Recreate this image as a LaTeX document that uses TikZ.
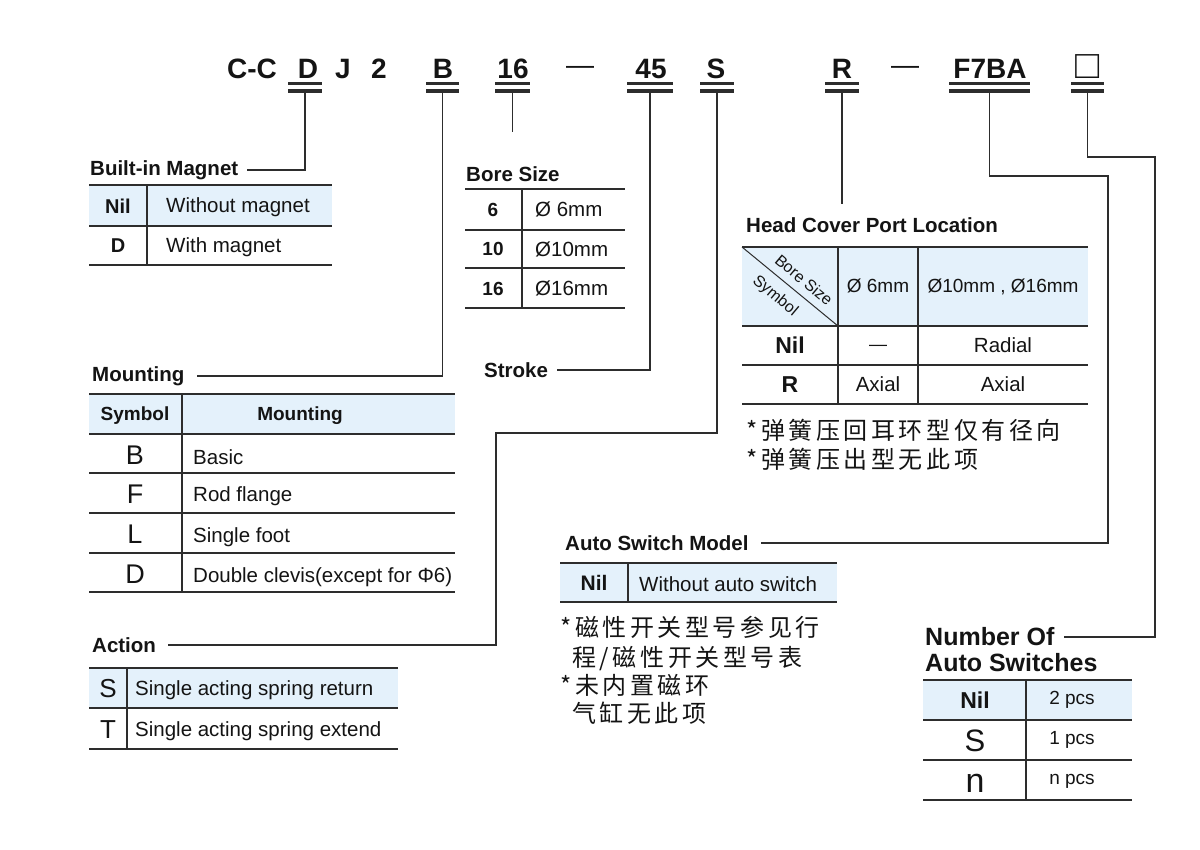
\documentclass[tikz,border=0pt]{standalone}
\usepackage{fontspec}
\setmainfont{Liberation Sans}
\newfontfamily\cjk[LetterSpace=15]{Noto Sans CJK SC}
\definecolor{shadeblue}{RGB}{228,241,251}
\definecolor{ink}{RGB}{45,45,45}
\begin{document}
\begin{tikzpicture}[x=1pt,y=-1pt,
  every node/.style={inner sep=0pt, text=black!92},
  tl1/.style={draw=ink, line width=1.4pt},
  tl2/.style={draw=ink, line width=2.1pt},
  conn/.style={draw=ink, line width=1.4pt},
  ul1/.style={draw=ink, line width=2.4pt},
  ul2/.style={draw=ink, line width=3.2pt},
  cT/.style={font=\fontsize{#1}{#1}\selectfont, anchor=base, yshift={-0.358*#1pt}},
  lT/.style={font=\fontsize{#1}{#1}\selectfont, anchor=base west, yshift={-0.358*#1pt}},
  cB/.style={cT=#1, font=\fontsize{#1}{#1}\selectfont\bfseries},
  lB/.style={lT=#1, font=\fontsize{#1}{#1}\selectfont\bfseries},
  cjkT/.style={font=\cjk\fontsize{24}{24}\selectfont, anchor=base west, yshift=-9pt},
  code/.style={font=\fontsize{28}{28}\selectfont\bfseries, anchor=base},
  codedash/.style={font=\fontsize{28}{28}\selectfont, anchor=base},
  diag/.style={font=\fontsize{16}{16}\selectfont, rotate=-40}
]
\fill[white] (0,0) rectangle (1200,850);
\useasboundingbox (0,0) rectangle (1200,850);

% ---------- model code ----------
\node[code] (cC) at (252,79) {C-C};
\node[code] (cD) at (308,79) {D};
\node[code] (cJ) at (343,79) {J};
\node[code] (c2) at (379,79) {2};
\node[code] (cB) at (443,79) {B};
\node[code] (c16) at (513,79) {16};
\node[codedash] (d1) at (580,75) {—};
\node[code] (c45) at (651,79) {45};
\node[code] (cS) at (716,79) {S};
\node[code] (cR) at (842,79) {R};
\node[codedash] (d2) at (905,75) {—};
\node[code] (cF) at (990,79) {F7BA};
\node[font=\fontsize{40}{40}\selectfont, anchor=base] (cX) at (1088,79) {□};

\foreach \n/\a/\b in {D/288/322, B/426/459, N16/495/530, N45/627/673, S/700/734, R/825/859, F/949/1030, X/1071/1104} {
  \draw[ul1] (\a,83.5) -- (\b,83.5);
  \draw[ul2] (\a,91) -- (\b,91);
  \coordinate (u\n) at ({(\a+\b)/2},92.5);
}

% ---------- Built-in Magnet ----------
\node[lB=20.5] (tMag) at (90,168) {Built-in Magnet};
\fill[shadeblue] (89,185) rectangle (332,226);
\draw[tl2] (89,185) -- (332,185);
\draw[tl2] (89,226) -- (332,226);
\draw[tl1] (89,265) -- (332,265);
\draw[tl1] (147,185) -- (147,265);
\node[cB=20] (mNil) at (118,206) {Nil};
\node[lT=20.5] (mNilT) at (166,205.5) {Without magnet};
\node[cB=20] (mD) at (118,245.5) {D};
\node[lT=20.5] (mDT) at (166,245.5) {With magnet};

% ---------- Bore Size ----------
\node[lB=20.5] (tBore) at (466,174) {Bore Size};
\draw[tl1] (465,189) -- (625,189);
\draw[tl1] (465,230) -- (625,230);
\draw[tl1] (465,268) -- (625,268);
\draw[tl1] (465,308) -- (625,308);
\draw[tl1] (522,189) -- (522,308);
\node[cB=19] (b6) at (493,209.5) {6};
\node[cB=19] (b10) at (493,249) {10};
\node[cB=19] (b16) at (493,288.5) {16};
\node[lT=20.5] (b6T) at (535,209.5) {Ø 6mm};
\node[lT=20.5] (b10T) at (535,249) {Ø10mm};
\node[lT=20.5] (b16T) at (535,288.5) {Ø16mm};

% ---------- Head Cover Port Location ----------
\node[lB=20.5] (tHead) at (746,225) {Head Cover Port Location};
\fill[shadeblue] (742,247) rectangle (1088,326);
\draw[tl2] (742,247) -- (1088,247);
\draw[tl2] (742,326) -- (1088,326);
\draw[tl1] (742,365) -- (1088,365);
\draw[tl1] (742,404) -- (1088,404);
\draw[tl1] (838,247) -- (838,404);
\draw[tl1] (918,247) -- (918,404);
\draw[draw=ink, line width=1pt] (742,247) -- (838,326);
\node[diag] (hBore) at (804,280) {Bore Size};
\node[diag] (hSym) at (775,296) {Symbol};
\node[cT=19] (h6) at (878,286) {Ø 6mm};
\node[cT=19] (h1016) at (1003,286) {Ø10mm , Ø16mm};
\node[cB=23] (hNil) at (790,345.5) {Nil};
\node[font=\fontsize{18}{18}\selectfont, anchor=base] (hDash) at (878,350.5) {—};
\node[cT=20.5] (hRad) at (1003,345.5) {Radial};
\node[cB=23] (hR) at (790,384.5) {R};
\node[cT=20.5] (hAx1) at (878,384.5) {Axial};
\node[cT=20.5] (hAx2) at (1003,384.5) {Axial};
\node[cjkT] (hN1) at (746,430) {*弹簧压回耳环型仅有径向};
\node[cjkT] (hN2) at (746,459) {*弹簧压出型无此项};

% ---------- Mounting ----------
\node[lB=20.5] (tMount) at (92,374) {Mounting};
\fill[shadeblue] (89,394) rectangle (455,434);
\draw[tl2] (89,394) -- (455,394);
\draw[tl2] (89,434) -- (455,434);
\draw[tl1] (89,473) -- (455,473);
\draw[tl1] (89,513) -- (455,513);
\draw[tl1] (89,553) -- (455,553);
\draw[tl1] (89,592) -- (455,592);
\draw[tl1] (182,394) -- (182,592);
\node[cB=19] (mSym) at (135,414) {Symbol};
\node[cB=19] (mMnt) at (300,414) {Mounting};
\node[cT=27] (mB) at (135,455) {B};
\node[cT=27] (mF) at (135,494) {F};
\node[cT=27] (mL) at (135,534) {L};
\node[cT=27] (mDD) at (135,574) {D};
\node[lT=20.5] (mBT) at (193,457) {Basic};
\node[lT=20.5] (mFT) at (193,494.5) {Rod flange};
\node[lT=20.5] (mLT) at (193,535.5) {Single foot};
\node[lT=20.5] (mDDT) at (193,575.5) {Double clevis(except for Φ6)};

% ---------- Stroke ----------
\node[lB=20.5] (tStroke) at (484,370) {Stroke};

% ---------- Auto Switch Model ----------
\node[lB=20.5] (tAuto) at (565,543) {Auto Switch Model};
\fill[shadeblue] (560,563) rectangle (837,602);
\draw[tl2] (560,563) -- (837,563);
\draw[tl2] (560,602) -- (837,602);
\draw[tl1] (628,563) -- (628,602);
\node[cB=21] (aNil) at (594,583) {Nil};
\node[lT=20.5] (aNilT) at (639,584) {Without auto switch};
\node[cjkT] (aN1) at (560,627) {*磁性开关型号参见行};
\node[cjkT] (aN2) at (572,657) {程/磁性开关型号表};
\node[cjkT] (aN3) at (560,685) {*未内置磁环};
\node[cjkT] (aN4) at (572,713) {气缸无此项};

% ---------- Action ----------
\node[lB=20.5] (tAct) at (92,645) {Action};
\fill[shadeblue] (89,668) rectangle (398,708);
\draw[tl2] (89,668) -- (398,668);
\draw[tl2] (89,708) -- (398,708);
\draw[tl1] (89,749) -- (398,749);
\draw[tl1] (127,668) -- (127,749);
\node[cT=26] (acS) at (108,688) {S};
\node[cT=26] (acT) at (108,729) {T};
\node[lT=20.5] (acST) at (135,688) {Single acting spring return};
\node[lT=20.5] (acTT) at (135,729) {Single acting spring extend};

% ---------- Number Of Auto Switches ----------
\node[lB=25] (tNum) at (925,637) {Number Of};
\node[lB=25] (tNum2) at (925,663) {Auto Switches};
\fill[shadeblue] (923,680) rectangle (1132,720);
\draw[tl2] (923,680) -- (1132,680);
\draw[tl2] (923,720) -- (1132,720);
\draw[tl1] (923,760) -- (1132,760);
\draw[tl1] (923,800) -- (1132,800);
\draw[tl1] (1026,680) -- (1026,800);
\node[cB=23] (nNil) at (975,700) {Nil};
\node[cT=31] (nS) at (975,740) {S};
\node[font=\fontsize{34}{34}\selectfont, anchor=base] (nn) at (975,792) {n};
\node[cT=19] (n2) at (1072,698) {2 pcs};
\node[cT=19] (n1) at (1072,738) {1 pcs};
\node[cT=19] (nnp) at (1072,778) {n pcs};

% ---------- connectors ----------
\coordinate (e16) at (512.5,132);
\coordinate (eR) at (842,204);
\coordinate (kS1) at (717,433);
\coordinate (kS2) at (496,433);
\coordinate (kF1) at (989.5,176);
\coordinate (kF2) at (1108,176);
\coordinate (kX1) at (1087.5,157);
\coordinate (kX2) at (1155,157);
\draw[conn] (uD) |- ([xshift=9pt]tMag.east);
\draw[conn] (uB) |- ([xshift=12pt]tMount.east);
\draw[conn] (uN16) -- (e16);
\draw[conn] (uN45) |- ([xshift=9pt]tStroke.east);
\draw[conn] (uS) -- (kS1) -- (kS2) |- ([xshift=12pt]tAct.east);
\draw[conn] (uR) -- (eR);
\draw[conn] (uF) -- (kF1) -- (kF2) |- ([xshift=12pt]tAuto.east);
\draw[conn] (uX) -- (kX1) -- (kX2) |- ([xshift=9pt]tNum.east);
\end{tikzpicture}
\end{document}
